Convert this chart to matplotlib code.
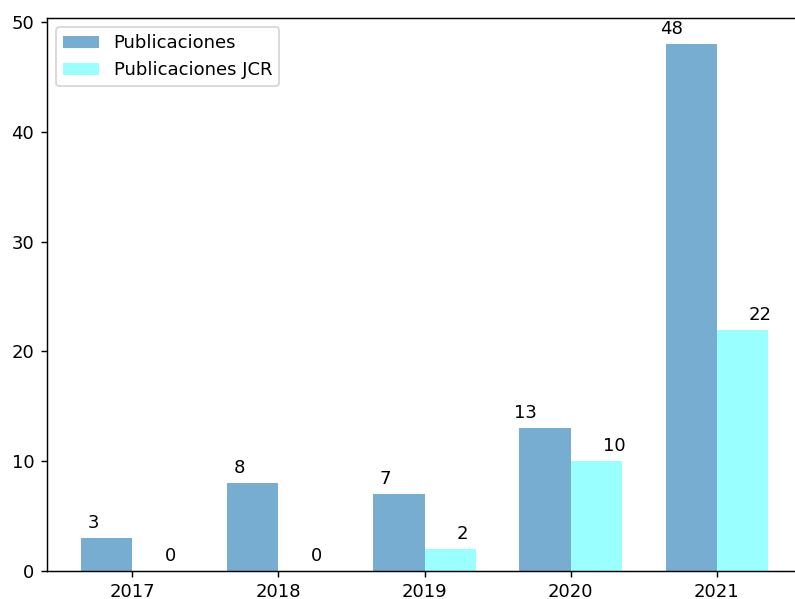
import numpy as np
import matplotlib
matplotlib.use('Agg')
import matplotlib.pyplot as plt

years = ['2017', '2018', '2019', '2020', '2021']
publicaciones = [3, 8, 7, 13, 48]
publicaciones_jcr = [0, 0, 2, 10, 22]

x = np.arange(len(years))
width = 0.35

fig = plt.figure(figsize=(7.95/1.3, 5.99/1.3), dpi=130)
ax = fig.add_axes([0.059, 0.047, 0.95, 0.923])

ax.bar(x - width/2, publicaciones, width, color='tab:blue', alpha=0.6,
       label='Publicaciones')
ax.bar(x + width/2, publicaciones_jcr, width, color='cyan', alpha=0.4,
       label='Publicaciones JCR')

for i, v in enumerate(publicaciones):
    ax.text(x[i] - 0.23, v + 0.9, str(v), ha='right')
for i, v in enumerate(publicaciones_jcr):
    ax.text(x[i] + 0.22, v + 0.9, str(v), ha='left')

ax.set_xticks(x)
ax.set_xticklabels(years)
ax.legend(loc='upper left')

fig.savefig('out.png', dpi=130)
